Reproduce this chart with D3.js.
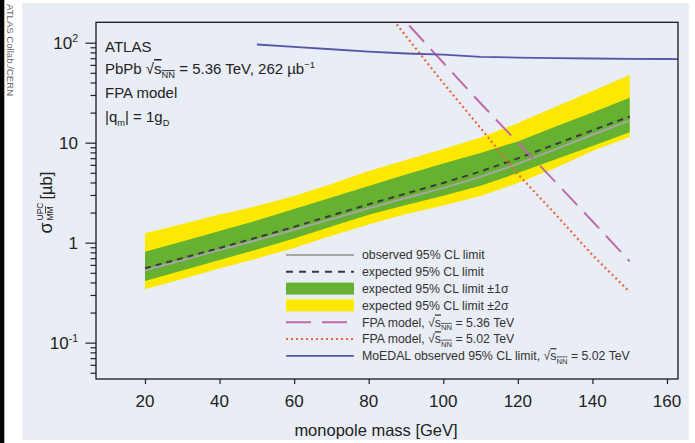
<!DOCTYPE html>
<html><head><meta charset="utf-8">
<script src="https://cdn.jsdelivr.net/npm/d3@7/dist/d3.min.js"></script>
<style>
body{margin:0;background:#fff;}
svg{display:block;font-family:"Liberation Sans",Arial,sans-serif;}
</style>
</head><body>
<svg id="c" width="695" height="443"></svg>
<script>
// ---- data ----
const mass = [20,30,40,50,60,70,80,90,100,110,120,130,140,150];
const observed = [0.53,0.668,0.845,1.06,1.345,1.72,2.21,2.80,3.53,4.55,6.14,8.57,12.0,16.6];
const expected = [0.555,0.70,0.885,1.125,1.44,1.87,2.42,3.10,3.96,5.16,6.97,9.62,13.3,18.3];
const sigma1Hi = [0.813,1.03,1.31,1.67,2.17,2.83,3.69,4.81,6.19,7.89,10.3,14.4,20.0,28.2];
const sigma1Lo = [0.414,0.527,0.671,0.855,1.10,1.45,1.90,2.38,2.94,3.72,4.98,6.79,9.27,12.7];
const sigma2Hi = [1.24,1.54,1.91,2.33,2.93,3.86,5.21,6.71,8.65,11.3,15.7,22.8,32.9,47.5];
const sigma2Lo = [0.342,0.434,0.552,0.695,0.885,1.17,1.52,1.94,2.36,2.93,3.95,5.59,8.26,11.4];
const fpaMass = [85,90,100,110,120,130,140,150];
const fpa536 = [255,161,63,24.8,10.0,4.08,1.64,0.65];
const fpa502 = [200,116.6,39.5,14.0,4.86,1.94,0.753,0.321];
const moedalMass = [50,60,70,80,90,100,110,120,130,140,150,160,165];
const moedal = [96,91,86,81.5,78,76,72,71,70,69.5,69,68.7,68.5];
const xTicks = [20,40,60,80,100,120,140,160];
const yMajor = [0.1,1,10,100];
const yMajorLabels = [["10","-1"],["1",""],["10",""],["10","2"]];
const yMinor = [0.05,0.06,0.07,0.08,0.09,0.2,0.3,0.4,0.5,0.6,0.7,0.8,0.9,2,3,4,5,6,7,8,9,20,30,40,50,60,70,80,90];

const svg = d3.select("#c");
const L = 96, R = 678, T = 22.3, B = 379;
const x = d3.scaleLinear().domain([6.86,162.95]).range([L,R]);
const y = d3.scaleLog().domain([0.0433,160]).range([B,T]);

// background panels
svg.append("rect").attr("x",0).attr("y",0).attr("width",695).attr("height",443).attr("fill","#fff");
svg.append("rect").attr("x",0).attr("y",0).attr("width",4.3).attr("height",443).attr("fill","#050505");
svg.append("rect").attr("x",22).attr("y",3).attr("width",667).attr("height",437).attr("fill","#e9edf5");
svg.append("text").attr("transform","translate(6.5,4) rotate(90)")
  .attr("font-size",9.6).attr("fill","#666").text("ATLAS Collab./CERN");

const defs = svg.append("defs");
defs.append("clipPath").attr("id","clip").append("rect")
  .attr("x",L).attr("y",T).attr("width",R-L).attr("height",B-T);
const g = svg.append("g").attr("clip-path","url(#clip)");

const idx = d3.range(mass.length);
const area = (lo,hi) => d3.area().x(i=>x(mass[i])).y0(i=>y(lo[i])).y1(i=>y(hi[i]));
g.append("path").attr("d",area(sigma2Lo,sigma2Hi)(idx)).attr("fill","#fde800");
g.append("path").attr("d",area(sigma1Lo,sigma1Hi)(idx)).attr("fill","#66b032");
const line = (mx,vals) => d3.line().x(i=>x(mx[i])).y(i=>y(vals[i]))(d3.range(mx.length));
g.append("path").attr("d",line(mass,observed)).attr("fill","none").attr("stroke","#a6a6a6").attr("stroke-width",2);
g.append("path").attr("d",line(mass,expected)).attr("fill","none").attr("stroke","#3a3a3a").attr("stroke-width",2).attr("stroke-dasharray","6,5");
g.append("path").attr("d",line(fpaMass,fpa536)).attr("fill","none").attr("stroke","#c06aa8").attr("stroke-width",2).attr("stroke-dasharray","22,10");
g.append("path").attr("d",line(fpaMass,fpa502)).attr("fill","none").attr("stroke","#f0643c").attr("stroke-width",2.2).attr("stroke-dasharray","2,3");
g.append("path").attr("d",line(moedalMass,moedal)).attr("fill","none").attr("stroke","#5656a6").attr("stroke-width",1.8);

// axes
const xAxis = svg.append("g").attr("transform",`translate(0,${B})`)
  .call(d3.axisBottom(x).tickValues(xTicks).tickSize(5).tickFormat(""));
xAxis.select(".domain").remove();
xAxis.selectAll(".tick line").attr("stroke","#222").attr("stroke-width",1.2);
svg.append("g").selectAll("text").data(xTicks).join("text")
  .attr("x",d=>x(d)).attr("y",406.7).attr("text-anchor","middle")
  .attr("font-size",17).attr("fill","#222").text(d=>d);

const yAx1 = svg.append("g").attr("transform",`translate(${L},0)`)
  .call(d3.axisLeft(y).tickValues(yMajor).tickSize(10.5).tickFormat(""));
yAx1.select(".domain").remove();
yAx1.selectAll(".tick line").attr("stroke","#222").attr("stroke-width",1.2);
const yAx2 = svg.append("g").attr("transform",`translate(${L},0)`)
  .call(d3.axisLeft(y).tickValues(yMinor).tickSize(5.5).tickFormat(""));
yAx2.select(".domain").remove();
yAx2.selectAll(".tick line").attr("stroke","#222").attr("stroke-width",1.2);

const yl = svg.append("g").selectAll("text").data(yMajor).join("text")
  .attr("x",78).attr("y",d=>y(d)+6).attr("text-anchor","end")
  .attr("font-size",17).attr("fill","#222");
yl.each(function(d,i){
  const t = d3.select(this);
  t.append("tspan").text(yMajorLabels[i][0]);
  if (yMajorLabels[i][1]) t.append("tspan").attr("font-size",10.5).attr("dy",-7).text(yMajorLabels[i][1]);
});

// frame
svg.append("rect").attr("x",L).attr("y",T).attr("width",R-L).attr("height",B-T)
  .attr("fill","none").attr("stroke","#1a1a1a").attr("stroke-width",1.3);

// axis titles
svg.append("text").attr("x",376).attr("y",436).attr("text-anchor","middle")
  .attr("font-size",16.5).attr("fill","#222").text("monopole mass [GeV]");
const yt = svg.append("g").attr("transform","translate(52,197.5) rotate(-90)").attr("fill","#222");
yt.append("text").attr("x",-36).attr("y",0).attr("font-size",18).text("σ");
yt.append("text").attr("x",-23).attr("y",-9).attr("font-size",8.5).text("UPC");
const mm = yt.append("text").attr("x",-23).attr("y",1).attr("font-size",8.5);
mm.append("tspan").text("M");
mm.append("tspan").style("text-decoration","overline").text("M");
yt.append("text").attr("x",-2).attr("y",0).attr("font-size",16.5).text("[µb]");

// rich text helper
function rich(parent, x0, y0, size, parts, fill){
  const t = parent.append("text").attr("x",x0).attr("y",y0).attr("font-size",size).attr("fill",fill||"#222");
  let shift = 0;
  parts.forEach(p=>{
    const s = t.append("tspan").text(p.t);
    let target = 0;
    if (p.sub){ s.attr("font-size",size*0.62); target = size*0.28; }
    if (p.sup){ s.attr("font-size",size*0.62); target = -size*0.42; }
    if (target !== shift){ s.attr("dy", target-shift); shift = target; }
    if (p.over) s.style("text-decoration","overline");
  });
  return t;
}

// top-left annotation
const ann = svg.append("g");
const afs = 15;
rich(ann,105,51.7,afs,[{t:"ATLAS"}]);
rich(ann,105,74,afs,[{t:"PbPb √"},{t:"s",over:true},{t:"NN",sub:true,over:true},{t:" = 5.36 TeV, 262 µb"},{t:"−1",sup:true}]);
rich(ann,105,98.3,afs,[{t:"FPA model"}]);
rich(ann,105,121.7,afs,[{t:"|q"},{t:"m",sub:true},{t:"| = 1g"},{t:"D",sub:true}]);

// legend
const leg = svg.append("g");
const lx0 = 286, lx1 = 354, tx = 362;
const rows = [255,271.8,288.6,305.4,322.2,339,355.8];
leg.append("line").attr("x1",lx0).attr("x2",lx1).attr("y1",rows[0]).attr("y2",rows[0]).attr("stroke","#a6a6a6").attr("stroke-width",2);
leg.append("line").attr("x1",lx0).attr("x2",lx1).attr("y1",rows[1]).attr("y2",rows[1]).attr("stroke","#3a3a3a").attr("stroke-width",2).attr("stroke-dasharray","7,6");
leg.append("rect").attr("x",lx0).attr("y",rows[2]-6).attr("width",lx1-lx0).attr("height",12).attr("fill","#66b032");
leg.append("rect").attr("x",lx0).attr("y",rows[3]-6).attr("width",lx1-lx0).attr("height",12).attr("fill","#fde800");
leg.append("line").attr("x1",lx0).attr("x2",lx1).attr("y1",rows[4]).attr("y2",rows[4]).attr("stroke","#c06aa8").attr("stroke-width",2).attr("stroke-dasharray","25,11");
leg.append("line").attr("x1",lx0).attr("x2",lx1).attr("y1",rows[5]).attr("y2",rows[5]).attr("stroke","#f0643c").attr("stroke-width",2.2).attr("stroke-dasharray","2,3");
leg.append("line").attr("x1",lx0).attr("x2",lx1).attr("y1",rows[6]).attr("y2",rows[6]).attr("stroke","#5656a6").attr("stroke-width",1.8);
const fs = 12.3, off = 4.3;
rich(leg,tx,rows[0]+off,fs,[{t:"observed 95% CL limit"}],"#333");
rich(leg,tx,rows[1]+off,fs,[{t:"expected 95% CL limit"}],"#333");
rich(leg,tx,rows[2]+off,fs,[{t:"expected 95% CL limit ±1σ"}],"#333");
rich(leg,tx,rows[3]+off,fs,[{t:"expected 95% CL limit ±2σ"}],"#333");
rich(leg,tx,rows[4]+off,fs,[{t:"FPA model, √"},{t:"s",over:true},{t:"NN",sub:true,over:true},{t:" = 5.36 TeV"}],"#333");
rich(leg,tx,rows[5]+off,fs,[{t:"FPA model, √"},{t:"s",over:true},{t:"NN",sub:true,over:true},{t:" = 5.02 TeV"}],"#333");
rich(leg,tx,rows[6]+off,fs,[{t:"MoEDAL observed 95% CL limit, √"},{t:"s",over:true},{t:"NN",sub:true,over:true},{t:" = 5.02 TeV"}],"#333");
</script>
</body></html>
